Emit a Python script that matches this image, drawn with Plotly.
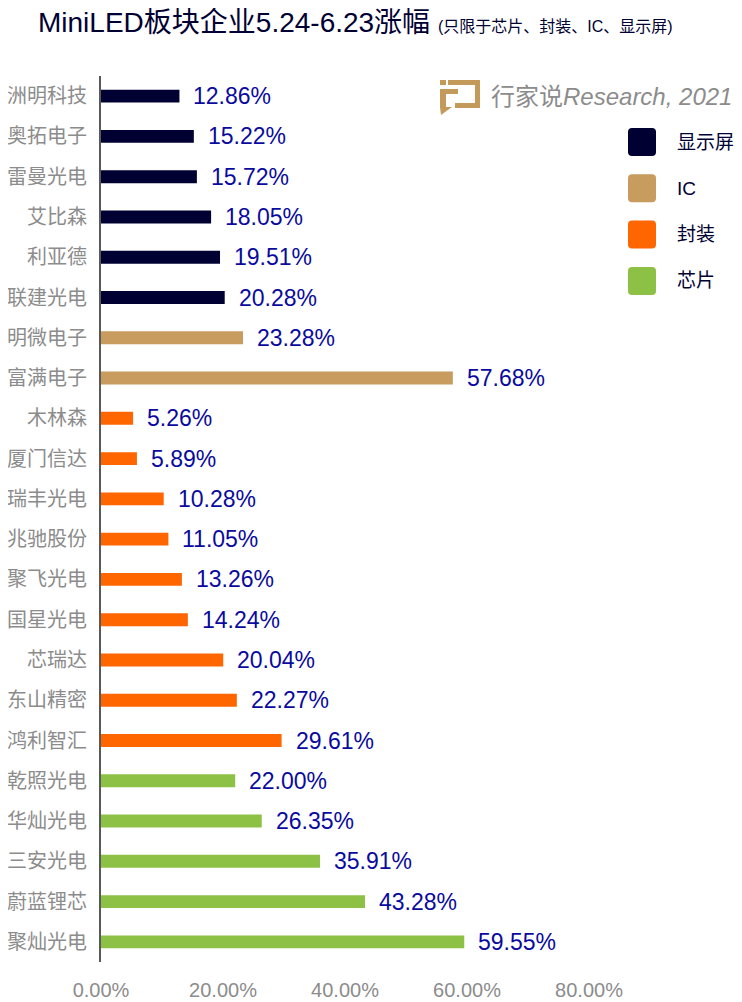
import plotly.graph_objects as go

# data (top to bottom)
companies = ["洲明科技", "奥拓电子", "雷曼光电", "艾比森", "利亚德", "联建光电",
             "明微电子", "富满电子",
             "木林森", "厦门信达", "瑞丰光电", "兆驰股份", "聚飞光电", "国星光电",
             "芯瑞达", "东山精密", "鸿利智汇",
             "乾照光电", "华灿光电", "三安光电", "蔚蓝锂芯", "聚灿光电"]
gains = [12.86, 15.22, 15.72, 18.05, 19.51, 20.28,
         23.28, 57.68,
         5.26, 5.89, 10.28, 11.05, 13.26, 14.24, 20.04, 22.27, 29.61,
         22.00, 26.35, 35.91, 43.28, 59.55]
segments = ["显示屏"] * 6 + ["IC"] * 2 + ["封装"] * 9 + ["芯片"] * 5

segment_order = ["显示屏", "IC", "封装", "芯片"]
segment_colors = {"显示屏": "#000033", "IC": "#C89B5E", "封装": "#FF6600", "芯片": "#8DC145"}

x_ticks = [0, 0.2, 0.4, 0.6, 0.8]

FONT = "Liberation Sans, Arial, Noto Sans CJK SC, sans-serif"

# the page body has an 8px margin, so the figure is drawn 8px smaller
OFF = 8
W, H = 742 - OFF, 1002 - OFF
L, R, T, B = 101 - OFF, 153, 76 - OFF, 40


# helpers: screen pixel (as measured on the reference) -> paper coords
def px_x(p):
    return (p - OFF - L) / (W - L - R)


def px_y(p):
    return (H - B - (p - OFF)) / (H - T - B)


fig = go.Figure()

for seg in segment_order:
    idx = [i for i, s in enumerate(segments) if s == seg]
    fig.add_trace(go.Bar(
        y=[companies[i] for i in idx],
        x=[gains[i] / 100 for i in idx],
        orientation="h",
        width=0.32,
        marker=dict(color=segment_colors[seg], line=dict(width=0)),
        name=seg,
        showlegend=False,
        hoverinfo="skip",
    ))

annotations = []
# value labels
for name, g in zip(companies, gains):
    annotations.append(dict(
        x=g / 100, y=name, xref="x", yref="y",
        text="%.2f%%" % g, showarrow=False,
        xanchor="left", yanchor="middle", xshift=12,
        font=dict(family=FONT, size=23, color="#0A0A9E"),
    ))

# manual legend with big rounded squares
shapes = []
for k, seg in enumerate(segment_order):
    cy = 142 + k * 46.3
    x0, x1 = px_x(628), px_x(656)
    y0, y1 = px_y(cy + 14), px_y(cy - 14)
    rx, ry = px_x(632) - px_x(628), px_y(cy - 14) - px_y(cy - 10)
    path = (f"M {x0 + rx} {y1} L {x1 - rx} {y1} Q {x1} {y1} {x1} {y1 - ry} "
            f"L {x1} {y0 + ry} Q {x1} {y0} {x1 - rx} {y0} "
            f"L {x0 + rx} {y0} Q {x0} {y0} {x0} {y0 + ry} "
            f"L {x0} {y1 - ry} Q {x0} {y1} {x0 + rx} {y1} Z")
    shapes.append(dict(type="path", path=path, xref="paper", yref="paper",
                       fillcolor=segment_colors[seg], line=dict(width=0)))
    annotations.append(dict(
        x=px_x(675), y=px_y(cy), xref="paper", yref="paper",
        text=seg, showarrow=False, xanchor="left", yanchor="middle",
        font=dict(family=FONT, size=19, color="#000033"),
    ))

# watermark logo (rough icon + text)
gold = "#C49A5A"
for (a, b, c, d) in [(440, 80, 446, 85), (448, 80, 480, 85), (475, 80, 480, 108),
                     (455, 103, 480, 108), (440, 89, 458, 94), (440, 89, 446, 108)]:
    shapes.append(dict(type="rect", xref="paper", yref="paper",
                       x0=px_x(a), x1=px_x(c), y0=px_y(d), y1=px_y(b),
                       fillcolor=gold, line=dict(width=0)))
shapes.append(dict(type="path", xref="paper", yref="paper",
                   path=f"M {px_x(440)} {px_y(107)} L {px_x(452)} {px_y(107)} "
                        f"L {px_x(441)} {px_y(115)} Z",
                   fillcolor=gold, line=dict(width=0)))
annotations.append(dict(
    x=px_x(489), y=px_y(97), xref="paper", yref="paper",
    text="行家说<i>Research, 2021</i>", showarrow=False,
    xanchor="left", yanchor="middle",
    font=dict(family=FONT, size=24, color="#8C8C8C"),
))

fig.update_layout(
    width=W, height=H,
    margin=dict(l=L, r=R, t=T, b=B, autoexpand=False),
    plot_bgcolor="white", paper_bgcolor="white",
    barmode="overlay",
    title=dict(
        text="MiniLED板块企业5.24-6.23涨幅 <span style='font-size:16px'>(只限于芯片、封装、IC、显示屏)</span>",
        x=30 / W, xref="container", xanchor="left",
        y=1 - 14 / H, yref="container", yanchor="middle",
        font=dict(family=FONT, size=28, color="#000033"),
    ),
    shapes=shapes,
    annotations=annotations,
    xaxis=dict(
        range=[0, 0.8], tickvals=x_ticks, tickformat=".2%",
        showgrid=False, zeroline=False, showline=False, ticks="",
        ticklabelstandoff=14, automargin=False,
        tickfont=dict(family=FONT, size=20, color="#8C8C8C"),
    ),
    yaxis=dict(
        type="category", categoryorder="array", categoryarray=companies,
        autorange="reversed",
        showgrid=False, zeroline=False, showline=True,
        linecolor="#595959", linewidth=2, ticks="",
        ticklabelstandoff=8, automargin=False,
        tickfont=dict(family=FONT, size=20, color="#8C8C8C"),
    ),
)

fig.write_html("out.html")
